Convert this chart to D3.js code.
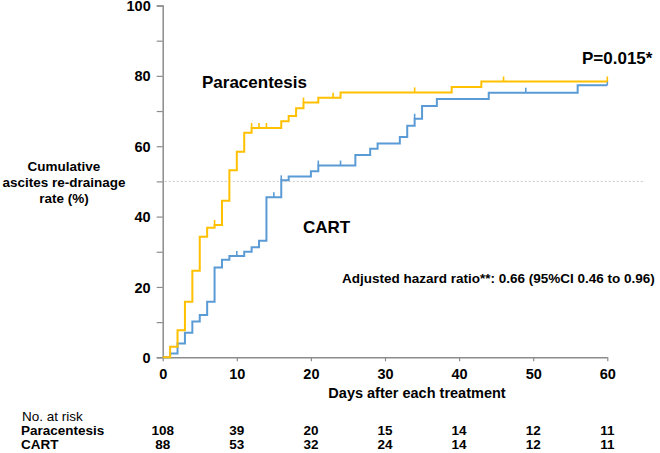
<!DOCTYPE html>
<html><head><meta charset="utf-8">
<script src="https://cdn.jsdelivr.net/npm/d3@7"></script>
<style>
html,body{margin:0;padding:0;background:#fff;}
svg text{font-family:"Liberation Sans",Arial,sans-serif;fill:#000;}
</style></head>
<body><svg id="chart" width="660" height="453"></svg>
<script>
// ---- data ----
const paraTimes  = [0,1,2,3,4,5,6,7,8,9,10,11,12,16,17,18,19,21,24,39,43,60];
const paraValues = [0,3.0,7.7,15.8,24.6,34.3,36.8,37.6,44.5,53.2,58.4,63.8,65.2,67.1,68.6,70.8,72.4,73.8,75.3,76.8,78.4,78.4];
const paraCensor = [7,12,13,14,19,23,34,46,60];

const cartTimes  = [0,1,2,3,4,5,6,7,8,9,11,12,13,14,16,17,20,21,26,28,29,32,33,34,35,37,44,56,60];
const cartValues = [0,1.1,3.9,7.0,10.2,12.0,15.8,25.5,27.7,28.8,30.0,31.3,33.1,45.5,50.3,51.4,52.9,54.5,57.5,59.3,60.8,62.6,65.8,67.8,71.4,73.4,75.2,77.3,77.3];
const cartCensor = [10,15,16,21,24,34,49,60];

const xTicks = [0,10,20,30,40,50,60];
const yTicks = [0,10,20,30,40,50,60,70,80,90,100];
const yLabels = [0,20,40,60,80,100];
const riskPara = [108,39,20,15,14,12,11];
const riskCart = [88,53,32,24,14,12,11];
const yTitle = ["Cumulative","ascites re-drainage","rate (%)"];

const colPara = "#FFC000", colCart = "#5B9BD5";

// ---- scales ----
const svg = d3.select("#chart");
const x = d3.scaleLinear().domain([0,60]).range([162.7,607.3]);
const y = d3.scaleLinear().domain([0,100]).range([357.3,5.5]);

// reference line at 50%
svg.append("line").attr("x1",x(0)+2).attr("x2",645).attr("y1",y(50)).attr("y2",y(50))
  .attr("stroke","#c8c8c8").attr("stroke-width",1).attr("stroke-dasharray","2,2");

// axes
const yAxis = d3.axisLeft(y).tickValues(yTicks).tickSize(6)
  .tickFormat(d => yLabels.includes(d) ? d : "");
const gy = svg.append("g").attr("transform",`translate(${x(0)},0)`).call(yAxis);
gy.select(".domain").attr("stroke","#8c8c8c").attr("stroke-width",1.5);
gy.selectAll(".tick line").attr("stroke","#8c8c8c").attr("stroke-width",1.2);
gy.selectAll(".tick text").attr("x",-12).attr("dy","0.35em")
  .style("font-size","14.5px").style("font-weight","bold").style("font-family","Liberation Sans, Arial");

const xAxis = d3.axisBottom(x).tickValues(xTicks).tickSize(4).tickSizeOuter(0);
const gx = svg.append("g").attr("transform",`translate(0,${y(0)})`).call(xAxis);
gx.select(".domain").attr("stroke","#8c8c8c").attr("stroke-width",1.5);
gx.selectAll(".tick line").attr("stroke","#8c8c8c").attr("stroke-width",1.2);
gx.selectAll(".tick text").attr("y",11).attr("dy","0.71em")
  .style("font-size","14.5px").style("font-weight","bold").style("font-family","Liberation Sans, Arial");

// curves
const line = d3.line().x(d => x(d[0])).y(d => y(d[1])).curve(d3.curveStepAfter);
function stepVal(times, vals, t){ let v = vals[0]; for(let i=0;i<times.length;i++){ if(times[i] <= t) v = vals[i]; } return v; }
function drawCurve(times, vals, censor, col){
  const pts = times.map((t,i)=>[t, vals[i]]);
  svg.append("path").datum(pts).attr("d",line).attr("fill","none")
    .attr("stroke",col).attr("stroke-width",2);
  svg.selectAll(null).data(censor).enter().append("line")
    .attr("x1",d=>x(d)).attr("x2",d=>x(d))
    .attr("y1",d=>y(stepVal(times,vals,d))).attr("y2",d=>y(stepVal(times,vals,d))-5)
    .attr("stroke",col).attr("stroke-width",1.6);
}
drawCurve(cartTimes, cartValues, cartCensor, colCart);
drawCurve(paraTimes, paraValues, paraCensor, colPara);

// annotations
const bold = s => s.style("font-weight","bold");
bold(svg.append("text").attr("x",202).attr("y",88).style("font-size","17px").text("Paracentesis"));
bold(svg.append("text").attr("x",303).attr("y",233).style("font-size","17px").text("CART"));
bold(svg.append("text").attr("x",582).attr("y",64).style("font-size","17px").text("P=0.015*"));
bold(svg.append("text").attr("x",342).attr("y",283).style("font-size","13.5px")
  .text("Adjusted hazard ratio**: 0.66 (95%CI 0.46 to 0.96)"));

// y title
svg.append("g").selectAll("text").data(yTitle).enter().append("text")
  .attr("x",64).attr("y",(d,i)=>171+i*16).attr("text-anchor","middle")
  .style("font-size","13.5px").style("font-weight","bold").text(d=>d);

// x title
bold(svg.append("text").attr("x",417).attr("y",398).attr("text-anchor","middle")
  .style("font-size","14.5px").text("Days after each treatment"));

// risk table
svg.append("text").attr("x",22).attr("y",421).style("font-size","13.5px").text("No. at risk");
bold(svg.append("text").attr("x",21).attr("y",435).style("font-size","13.5px").text("Paracentesis"));
bold(svg.append("text").attr("x",21).attr("y",449).style("font-size","13.5px").text("CART"));
svg.append("g").selectAll("text").data(riskPara).enter().append("text")
  .attr("x",(d,i)=>x(xTicks[i])).attr("y",435).attr("text-anchor","middle")
  .style("font-size","13.5px").style("font-weight","bold").text(d=>d);
svg.append("g").selectAll("text").data(riskCart).enter().append("text")
  .attr("x",(d,i)=>x(xTicks[i])).attr("y",449).attr("text-anchor","middle")
  .style("font-size","13.5px").style("font-weight","bold").text(d=>d);
</script></body></html>
